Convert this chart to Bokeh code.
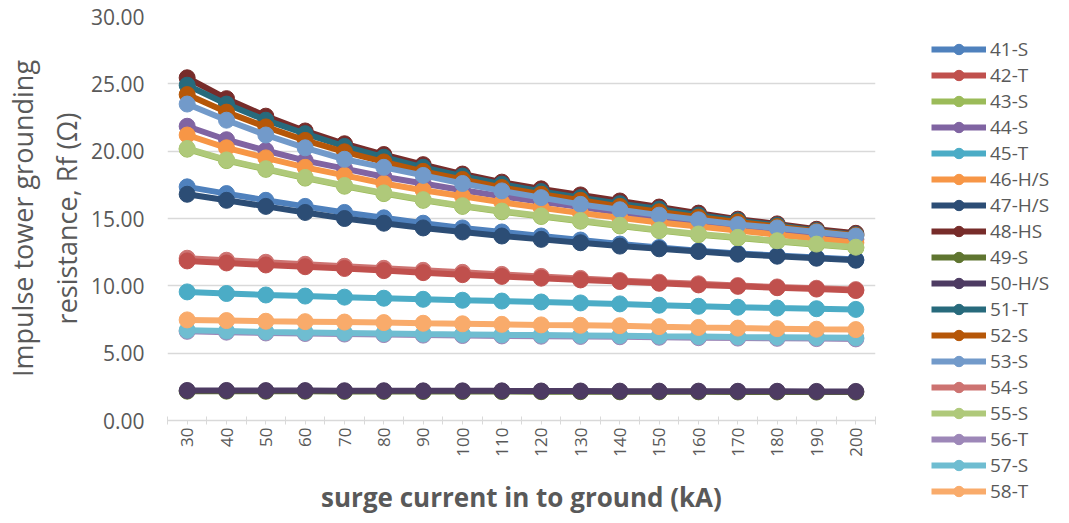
from bokeh.plotting import figure
from bokeh.models import Legend, LegendItem, FixedTicker, Range1d, NumeralTickFormatter
from bokeh.embed import file_html
from bokeh.resources import INLINE
from math import pi

currents = [30, 40, 50, 60, 70, 80, 90, 100, 110, 120, 130, 140, 150, 160, 170, 180, 190, 200]
x_edges = [25, 35, 45, 55, 65, 75, 85, 95, 105, 115, 125, 135, 145, 155, 165, 175, 185, 195, 205]
y_ticks = [0, 5, 10, 15, 20, 25, 30]

names = ["41-S", "42-T", "43-S", "44-S", "45-T", "46-H/S", "47-H/S", "48-HS", "49-S",
         "50-H/S", "51-T", "52-S", "53-S", "54-S", "55-S", "56-T", "57-S", "58-T"]

colors = ["#4F81BD", "#C0504D", "#9BBB59", "#8064A2", "#4BACC6", "#F79646", "#2C4D75", "#772C2A", "#5F7530",
          "#4D3B62", "#276A7C", "#B65708", "#729ACA", "#CD7371", "#AFC97A", "#9D87B8", "#6FBDD1", "#F9AB6B"]

s41 = [17.35, 16.85, 16.35, 15.9, 15.45, 15.05, 14.65, 14.3, 14.0, 13.7, 13.4, 13.1, 12.85, 12.6, 12.4, 12.25, 12.1, 11.95]
s42 = [11.85, 11.7, 11.55, 11.42, 11.29, 11.13, 10.98, 10.83, 10.7, 10.57, 10.44, 10.32, 10.19, 10.07, 9.96, 9.86, 9.76, 9.65]
s43 = [20.15, 19.3, 18.65, 18.0, 17.4, 16.85, 16.35, 15.9, 15.5, 15.15, 14.8, 14.45, 14.1, 13.8, 13.55, 13.3, 13.05, 12.82]
s44 = [21.85, 20.85, 20.05, 19.3, 18.7, 18.1, 17.6, 17.1, 16.65, 16.25, 15.85, 15.45, 15.05, 14.7, 14.35, 14.05, 13.75, 13.45]
s45 = [9.55, 9.43, 9.32, 9.24, 9.16, 9.08, 9.0, 8.93, 8.87, 8.8, 8.73, 8.66, 8.56, 8.48, 8.41, 8.35, 8.3, 8.25]
s46 = [21.2, 20.25, 19.5, 18.8, 18.2, 17.6, 17.1, 16.65, 16.2, 15.8, 15.4, 15.05, 14.7, 14.4, 14.1, 13.8, 13.5, 13.2]
s47 = [16.8, 16.35, 15.9, 15.45, 15.0, 14.65, 14.3, 14.0, 13.7, 13.45, 13.2, 12.95, 12.75, 12.55, 12.35, 12.2, 12.05, 11.9]
s48 = [25.45, 23.9, 22.6, 21.5, 20.55, 19.75, 19.0, 18.3, 17.7, 17.2, 16.75, 16.3, 15.85, 15.4, 14.95, 14.6, 14.2, 13.9]
s49 = [2.18, 2.18, 2.17, 2.17, 2.16, 2.16, 2.15, 2.15, 2.15, 2.14, 2.14, 2.13, 2.13, 2.13, 2.12, 2.12, 2.11, 2.11]
s50 = [2.23, 2.23, 2.22, 2.22, 2.21, 2.21, 2.2, 2.2, 2.2, 2.19, 2.19, 2.18, 2.18, 2.18, 2.17, 2.17, 2.16, 2.16]
s51 = [24.9, 23.5, 22.3, 21.3, 20.35, 19.55, 18.8, 18.15, 17.55, 17.0, 16.55, 16.1, 15.7, 15.25, 14.85, 14.5, 14.1, 13.8]
s52 = [24.2, 22.9, 21.8, 20.8, 19.95, 19.2, 18.5, 17.9, 17.3, 16.8, 16.35, 15.9, 15.5, 15.1, 14.75, 14.4, 14.05, 13.75]
s53 = [23.5, 22.3, 21.2, 20.25, 19.4, 18.8, 18.2, 17.6, 17.05, 16.55, 16.05, 15.65, 15.25, 14.9, 14.55, 14.3, 14.0, 13.7]
s54 = [12.05, 11.9, 11.75, 11.6, 11.45, 11.3, 11.15, 11.0, 10.85, 10.7, 10.55, 10.4, 10.27, 10.15, 10.02, 9.92, 9.82, 9.72]
s55 = [20.2, 19.35, 18.7, 18.05, 17.45, 16.9, 16.4, 15.95, 15.55, 15.2, 14.85, 14.5, 14.15, 13.85, 13.6, 13.35, 13.1, 12.87]
s56 = [6.62, 6.56, 6.5, 6.46, 6.42, 6.38, 6.34, 6.31, 6.28, 6.26, 6.24, 6.22, 6.18, 6.15, 6.12, 6.1, 6.08, 6.06]
s57 = [6.7, 6.64, 6.58, 6.54, 6.5, 6.46, 6.42, 6.39, 6.36, 6.34, 6.32, 6.3, 6.26, 6.23, 6.2, 6.18, 6.16, 6.14]
s58 = [7.47, 7.42, 7.37, 7.34, 7.31, 7.27, 7.22, 7.18, 7.14, 7.1, 7.07, 7.04, 6.97, 6.91, 6.86, 6.82, 6.78, 6.75]

series = [s41, s42, s43, s44, s45, s46, s47, s48, s49, s50, s51, s52, s53, s54, s55, s56, s57, s58]

TEXT = "#595959"
GRID = "#D9D9D9"
FONT = "Open Sans"

p = figure(frame_width=708, frame_height=404, output_backend="svg", toolbar_location=None,
           min_border_left=165, min_border_top=16, min_border_right=190, min_border_bottom=80,
           x_range=Range1d(25, 205), y_range=Range1d(0, 30))
p.outline_line_color = None
p.background_fill_color = "white"
p.border_fill_color = "white"

renderers = {}
# drawing order: 54-S before 42-T so that the darker red sits on top
draw_order = [0, 13, 1, 2, 3, 4, 5, 6, 7, 8, 9, 10, 11, 12, 14, 15, 16, 17]
for i in draw_order:
    rl = p.line(currents, series[i], line_width=6, line_color=colors[i])
    rs = p.scatter(currents, series[i], size=16, fill_color=colors[i], line_color=colors[i])
    renderers[i] = [rl, rs]

items = [LegendItem(label=names[i], renderers=renderers[i]) for i in range(len(names))]

# axes
p.xaxis.ticker = FixedTicker(ticks=currents, minor_ticks=x_edges)
p.xaxis.major_label_orientation = pi / 2
p.xaxis.major_label_text_font = FONT
p.xaxis.major_label_text_font_size = "17px"
p.xaxis.major_label_text_color = TEXT
p.xaxis.axis_line_color = GRID
p.xaxis.axis_line_width = 1.5
p.xaxis.major_tick_line_color = GRID
p.xaxis.major_tick_out = 4
p.xaxis.major_tick_in = 0
p.xaxis.minor_tick_line_color = GRID
p.xaxis.minor_tick_in = 4
p.xaxis.minor_tick_out = 4
p.xaxis.major_label_standoff = 3
p.xaxis.axis_label = "surge current in to ground (kA)"
p.xaxis.axis_label_text_font = FONT
p.xaxis.axis_label_text_font_style = "bold"
p.xaxis.axis_label_text_font_size = "26px"
p.xaxis.axis_label_text_color = TEXT
p.xaxis.axis_label_standoff = 19

p.yaxis.ticker = FixedTicker(ticks=y_ticks)
p.yaxis.formatter = NumeralTickFormatter(format="0.00")
p.yaxis.major_label_text_font = FONT
p.yaxis.major_label_text_font_size = "21px"
p.yaxis.major_label_text_color = TEXT
p.yaxis.axis_line_color = None
p.yaxis.major_tick_line_color = None
p.yaxis.minor_tick_line_color = None
p.yaxis.major_tick_out = 0
p.yaxis.major_tick_in = 0
p.yaxis.major_label_standoff = 23
p.yaxis.axis_label = "Impulse tower grounding\nresistance, Rf (Ω)"
p.yaxis.axis_label_text_font = FONT
p.yaxis.axis_label_text_font_style = "normal"
p.yaxis.axis_label_text_font_size = "27px"
p.yaxis.axis_label_text_color = TEXT
p.yaxis.axis_label_standoff = 3

p.xgrid.grid_line_color = None
p.ygrid.grid_line_color = GRID
p.ygrid.grid_line_width = 1.5

legend = Legend(items=items, location=(56, -84), glyph_width=55, glyph_height=26, label_height=26,
                spacing=0, padding=5, margin=0, label_standoff=4,
                label_text_font=FONT, label_text_font_size="19px", label_text_color=TEXT,
                border_line_color=None, background_fill_alpha=0)
p.add_layout(legend, "right")

open("out.html", "w").write(file_html(p, INLINE))
